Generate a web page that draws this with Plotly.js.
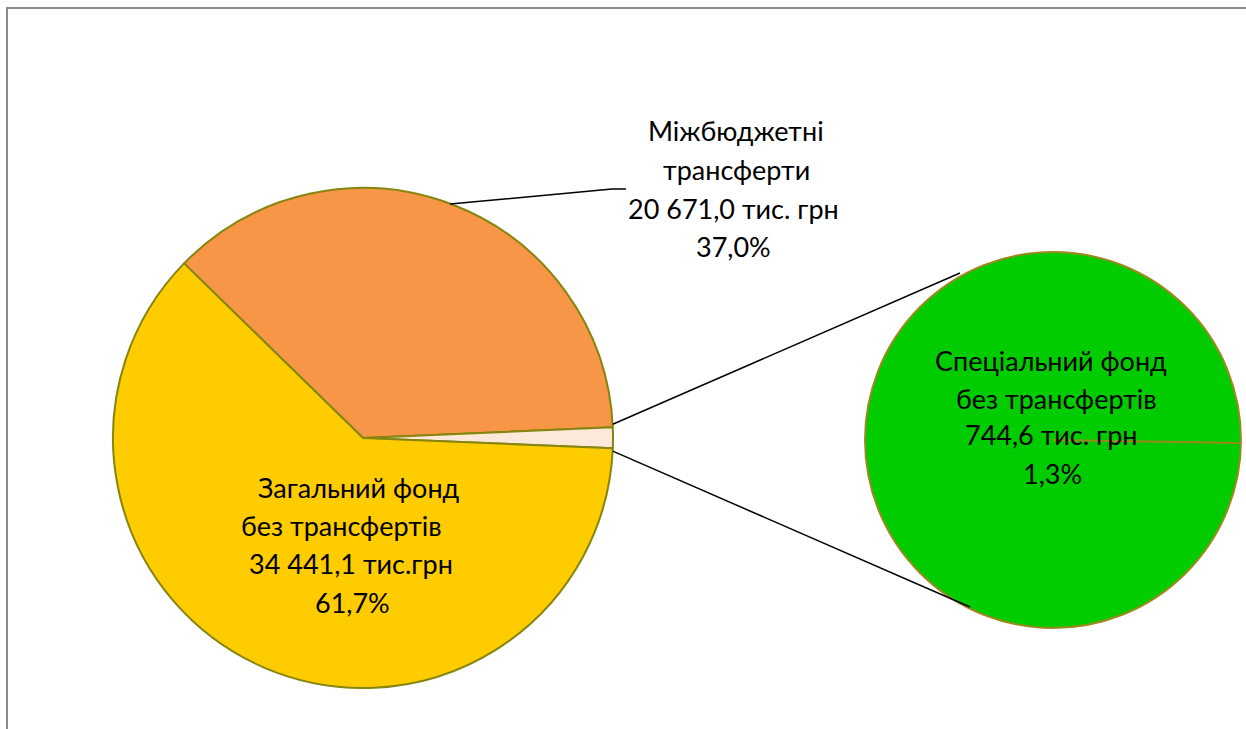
<!DOCTYPE html>
<html>
<head>
<meta charset="utf-8">
<script src="https://cdn.plot.ly/plotly-3.0.1.min.js"></script>
<style>html,body{margin:0;padding:0;background:#fff;}#chart{width:1246px;height:729px;}</style>
</head>
<body>
<div id="chart"></div>
<script>
// ---- data ----
const categories = ['Міжбюджетні трансферти', 'Спеціальний фонд без трансфертів', 'Загальний фонд без трансфертів'];
const values = [20671.0, 744.6, 34441.1];            // тис. грн
const valueLabels = ['20 671,0 тис. грн', '744,6 тис. грн', '34 441,1 тис.грн'];
const percentLabels = ['37,0%', '1,3%', '61,7%'];
const nameLines = [['Міжбюджетні', 'трансферти'], ['Спеціальний фонд', 'без трансфертів'], ['Загальний фонд', 'без трансфертів']];
const mainColors = ['#F79646', '#FDE9D9', '#FFCC00'];
const secondaryColor = '#00CC00';

// ---- geometry (pixels) ----
const W = 1246, H = 729;
const px = x => x / W;
const py = y => 1 - y / H;
const main = {cx: 363, cy: 438, r: 250};
const sec = {cx: 1053, cy: 440, r: 188};
const rotation = -45.7; // compass degrees, first slice start, clockwise

const total = values.reduce((a, b) => a + b, 0);
function edge(c, compassDeg, rr) {
  const a = compassDeg * Math.PI / 180;
  return [c.cx + rr * Math.sin(a), c.cy - rr * Math.cos(a)];
}
const a1 = rotation + values[0] / total * 360;
const a2 = a1 + values[1] / total * 360;
const pTop = edge(main, a1, main.r);
const pBot = edge(main, a2, main.r);

const traces = [
  {
    type: 'pie', values: values, labels: categories, sort: false, direction: 'clockwise',
    rotation: rotation, textinfo: 'none', hoverinfo: 'label+value+percent',
    marker: {colors: mainColors, line: {color: '#85850F', width: 2}},
    domain: {x: [px(main.cx - main.r), px(main.cx + main.r)], y: [py(main.cy + main.r), py(main.cy - main.r)]},
    showlegend: false
  },
  {
    type: 'pie', values: [values[1]], labels: [categories[1]], sort: false,
    textinfo: 'none', hoverinfo: 'label+value',
    marker: {colors: [secondaryColor], line: {color: '#9A8A1E', width: 2}},
    domain: {x: [px(sec.cx - sec.r), px(sec.cx + sec.r)], y: [py(sec.cy + sec.r), py(sec.cy - sec.r)]},
    showlegend: false
  }
];

const lineStyle = {color: '#000', width: 1.5};
const shapes = [
  {type: 'rect', xref: 'paper', yref: 'paper', x0: px(7), x1: px(1260), y0: py(8), y1: py(740), line: {color: '#8A8A8A', width: 2}, fillcolor: 'rgba(0,0,0,0)', layer: 'below'},
  {type: 'line', xref: 'paper', yref: 'paper', x0: px(pTop[0]), y0: py(pTop[1] - 3), x1: px(960), y1: py(273), line: lineStyle},
  {type: 'line', xref: 'paper', yref: 'paper', x0: px(pBot[0]), y0: py(pBot[1] + 3), x1: px(970), y1: py(607), line: lineStyle},
  {type: 'path', xref: 'paper', yref: 'paper', path: `M ${px(450)} ${py(204)} L ${px(612)} ${py(189)} L ${px(626)} ${py(189)}`, line: lineStyle},
  {type: 'line', xref: 'paper', yref: 'paper', x0: px(sec.cx), y0: py(sec.cy), x1: px(sec.cx + sec.r), y1: py(sec.cy + 3), line: {color: '#9A8A1E', width: 2}}
];

// label line positions: [x-center, y-center] for each line of each category
const labelPos = [
  [[736, 130], [736, 169], [734, 208], [734, 247]],
  [[1051, 361], [1056, 398], [1051, 435], [1052, 473]],
  [[359, 487], [341, 525], [351, 563], [352, 602]]
];
const font = {family: 'Lato, "Open Sans", sans-serif', size: 27, color: '#000'};
const annotations = [];
categories.forEach((c, i) => {
  const lines = [nameLines[i][0], nameLines[i][1], valueLabels[i], percentLabels[i]];
  lines.forEach((t, j) => {
    annotations.push({xref: 'paper', yref: 'paper', x: px(labelPos[i][j][0]), y: py(labelPos[i][j][1]),
      xanchor: 'center', yanchor: 'middle', showarrow: false, text: t, font: font});
  });
});

const layout = {
  width: W, height: H, margin: {l: 0, r: 0, t: 0, b: 0},
  paper_bgcolor: '#fff', plot_bgcolor: '#fff', showlegend: false,
  shapes: shapes, annotations: annotations
};
Plotly.newPlot('chart', traces, layout, {displayModeBar: false, staticPlot: true});
</script>
</body>
</html>
